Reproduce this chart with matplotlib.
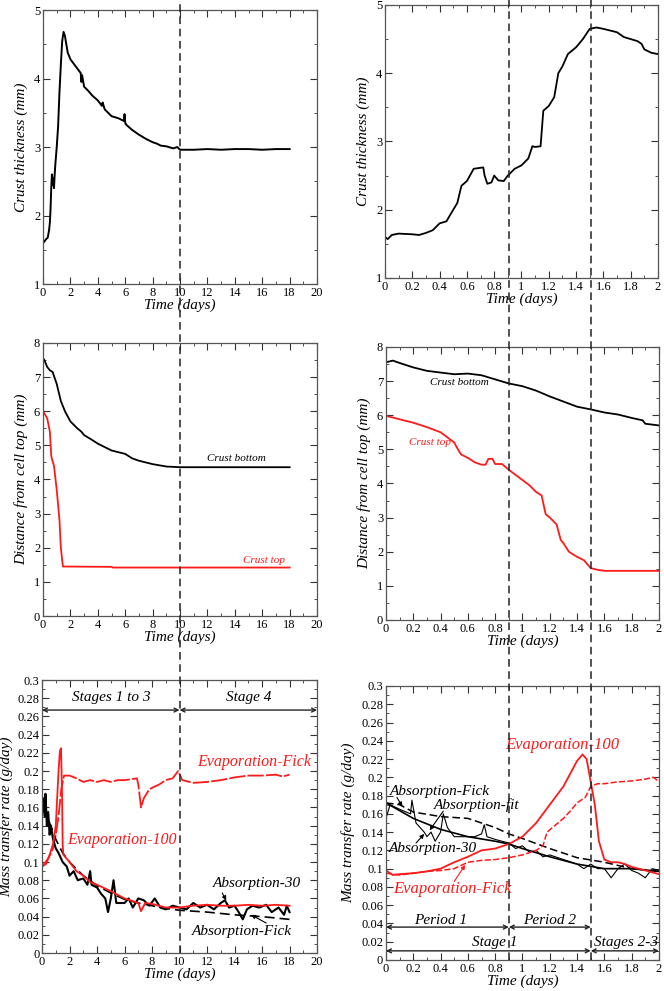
import matplotlib
matplotlib.use("Agg")
import matplotlib.pyplot as plt
from matplotlib.lines import Line2D
from matplotlib.ticker import MultipleLocator, FormatStrFormatter
from matplotlib.transforms import blended_transform_factory

# ---- crust thickness, long run (days, mm)
thick_long_t = [0, 0.1, 0.2, 0.35, 0.45, 0.5, 0.55, 0.6, 0.65, 0.7, 0.75, 0.8, 0.85, 0.9, 1.0, 1.1, 1.2, 1.3,
                1.4, 1.5, 1.6, 1.7, 1.8, 2.0, 2.3, 2.6, 2.75, 2.8, 2.85, 3.0, 3.3, 3.6, 4.0, 4.3, 4.35, 4.5,
                5.0, 5.5, 5.9, 5.95, 6.0, 6.1, 6.5, 7.0, 7.5, 8.0, 8.3, 8.6, 9.0, 9.5, 9.8, 10.0, 10.5, 11,
                12, 13, 14, 15, 16, 17, 18]
thick_long = [1.6, 1.62, 1.65, 1.68, 1.8, 1.9, 2.1, 2.4, 2.6, 2.45, 2.55, 2.4, 2.6, 2.75, 3.0, 3.3, 3.8, 4.2,
              4.55, 4.68, 4.62, 4.5, 4.38, 4.28, 4.2, 4.12, 4.08, 3.95, 4.05, 3.88, 3.82, 3.75, 3.68, 3.6,
              3.65, 3.55, 3.45, 3.42, 3.38, 3.48, 3.35, 3.32, 3.25, 3.18, 3.12, 3.07, 3.05, 3.02, 3.01,
              2.98, 3.0, 2.96, 2.96, 2.96, 2.97, 2.96, 2.97, 2.97, 2.96, 2.97, 2.97]

# ---- crust thickness, first two days
thick_short_t = [0, 0.02, 0.05, 0.1, 0.2, 0.25, 0.3, 0.35, 0.4, 0.45, 0.5, 0.53, 0.56, 0.6, 0.65, 0.72, 0.73,
                 0.75, 0.78, 0.8, 0.83, 0.87, 0.9, 0.95, 1.0, 1.05, 1.08, 1.1, 1.14, 1.16, 1.2, 1.24, 1.27,
                 1.3, 1.34, 1.4, 1.45, 1.5, 1.55, 1.6, 1.7, 1.75, 1.85, 1.88, 1.9, 1.95, 2.0]
thick_short = [1.6, 1.57, 1.63, 1.65, 1.64, 1.63, 1.66, 1.7, 1.8, 1.83, 2.0, 2.1, 2.35, 2.42, 2.6, 2.62, 2.5,
               2.38, 2.4, 2.5, 2.43, 2.42, 2.5, 2.6, 2.65, 2.75, 2.93, 2.92, 2.93, 3.45, 3.52, 3.65, 4.0,
               4.1, 4.28, 4.38, 4.5, 4.65, 4.67, 4.65, 4.6, 4.53, 4.47, 4.43, 4.35, 4.3, 4.28]

# ---- crust position, long run
bottom_long_t = [0, 0.1, 0.3, 0.5, 0.7, 1.0, 1.3, 1.6, 2.0, 2.5, 2.8, 3.0, 3.5, 4.0, 4.5, 5.0, 5.5, 6.0, 6.5,
                 7.0, 7.5, 8.0, 9.0, 10, 12, 14, 16, 18]
bottom_long = [7.55, 7.5, 7.3, 7.2, 7.15, 6.8, 6.3, 6.0, 5.7, 5.5, 5.4, 5.3, 5.18, 5.05, 4.95, 4.85, 4.8,
               4.75, 4.62, 4.55, 4.5, 4.45, 4.38, 4.36, 4.36, 4.36, 4.36, 4.36]
top_long_t = [0, 0.3, 0.5, 0.6, 0.65, 0.8, 1.0, 1.2, 1.3, 1.45, 5.0, 5.1, 18]
top_long = [6.0, 5.8, 5.4, 4.7, 4.6, 4.4, 3.7, 2.8, 2.0, 1.45, 1.44, 1.42, 1.42]

# ---- crust position, first two days
bottom_short_t = [0, 0.05, 0.1, 0.2, 0.3, 0.4, 0.5, 0.6, 0.7, 0.8, 0.9, 1.0, 1.1, 1.2, 1.3, 1.4, 1.5, 1.6,
                  1.7, 1.8, 1.88, 1.9, 2.0]
bottom_short = [7.55, 7.6, 7.53, 7.4, 7.3, 7.25, 7.2, 7.22, 7.17, 7.05, 6.93, 6.85, 6.72, 6.55, 6.4, 6.25,
                6.17, 6.08, 6.02, 5.92, 5.85, 5.75, 5.7]
top_short_t = [0, 0.1, 0.2, 0.3, 0.4, 0.5, 0.52, 0.55, 0.6, 0.65, 0.7, 0.73, 0.75, 0.78, 0.8, 0.85, 0.9, 0.95,
               1.0, 1.05, 1.1, 1.14, 1.17, 1.2, 1.25, 1.28, 1.3, 1.34, 1.4, 1.45, 1.5, 1.55, 1.6, 2.0]
top_short = [5.98, 5.88, 5.78, 5.65, 5.5, 5.2, 5.05, 4.85, 4.75, 4.62, 4.55, 4.55, 4.72, 4.72, 4.57, 4.57,
             4.4, 4.25, 4.1, 3.95, 3.75, 3.65, 3.1, 3.0, 2.8, 2.35, 2.25, 2.0, 1.85, 1.75, 1.52, 1.47, 1.44,
             1.44]

# ---- mass transfer rate, long run (g/day)
evap100_long_t = [0, 0.3, 0.6, 0.8, 1.0, 1.1, 1.2, 1.3, 1.38, 1.45, 1.5, 1.55, 2, 2.5, 3, 3.5, 4, 5, 6, 7,
                  7.2, 7.5, 8, 9, 10, 11, 12, 13, 14, 15, 16, 17, 18]
evap100_long = [0.095, 0.098, 0.11, 0.12, 0.14, 0.17, 0.2, 0.222, 0.225, 0.18, 0.12, 0.108, 0.1, 0.09,
                0.085, 0.078, 0.075, 0.068, 0.06, 0.055, 0.046, 0.055, 0.054, 0.05, 0.05, 0.052, 0.053,
                0.052, 0.052, 0.053, 0.052, 0.053, 0.052]
evapfick_long_t = [0, 0.5, 0.8, 1.0, 1.2, 1.4, 1.6, 2, 2.5, 3, 3.5, 4, 4.5, 5, 5.5, 6, 6.5, 6.9, 7.0, 7.2,
                   7.4, 7.8, 8.2, 8.5, 9, 9.5, 9.9, 10.2, 11, 12, 13, 14, 15, 16, 17, 17.5, 18]
evapfick_long = [0.095, 0.105, 0.115, 0.13, 0.15, 0.18, 0.195, 0.195, 0.192, 0.188, 0.19, 0.188, 0.19,
                 0.188, 0.19, 0.19, 0.191, 0.192, 0.185, 0.16, 0.17, 0.18, 0.183, 0.185, 0.19, 0.192, 0.2,
                 0.19, 0.187, 0.188, 0.19, 0.193, 0.195, 0.195, 0.196, 0.194, 0.196]
abs30_long_t = [0, 0.1, 0.2, 0.25, 0.35, 0.45, 0.55, 0.65, 0.8, 1.0, 1.2, 1.5, 1.8, 2.0, 2.3, 2.6, 3.0, 3.3,
                3.5, 3.6, 4.0, 4.3, 4.6, 4.8, 5.0, 5.2, 5.4, 6.0, 6.3, 6.6, 7.0, 7.4, 7.8, 8.2, 8.6, 9.0,
                9.5, 10, 10.5, 11, 11.5, 12, 12.5, 13, 13.3, 13.6, 14, 14.3, 14.6, 14.9, 15.3, 15.8, 16.3,
                16.7, 17.2, 17.6, 17.8, 18]
abs30_long = [0.16, 0.17, 0.15, 0.175, 0.14, 0.155, 0.13, 0.14, 0.125, 0.115, 0.11, 0.1, 0.095, 0.085,
              0.09, 0.08, 0.082, 0.075, 0.09, 0.075, 0.072, 0.065, 0.06, 0.045, 0.06, 0.08, 0.055, 0.055,
              0.06, 0.05, 0.06, 0.058, 0.052, 0.06, 0.05, 0.048, 0.052, 0.05, 0.048, 0.055, 0.05, 0.053,
              0.048, 0.055, 0.058, 0.05, 0.052, 0.045, 0.037, 0.048, 0.052, 0.05, 0.053, 0.045, 0.05,
              0.042, 0.052, 0.045]
absfick_long_t = [0, 0.5, 1.0, 1.5, 2, 3, 4, 5, 6, 7, 8, 9, 10, 12, 14, 16, 18]
absfick_long = [0.16, 0.145, 0.125, 0.11, 0.1, 0.085, 0.074, 0.066, 0.059, 0.055, 0.052, 0.049, 0.047,
                0.045, 0.042, 0.04, 0.037]

# ---- mass transfer rate, first two days
evap100_short_t = [0, 0.05, 0.1, 0.2, 0.3, 0.4, 0.5, 0.6, 0.7, 0.8, 0.9, 1.0, 1.1, 1.2, 1.3, 1.4, 1.44,
                   1.47, 1.5, 1.53, 1.56, 1.6, 1.65, 1.7, 1.75, 1.8, 1.9, 2.0]
evap100_short = [0.098, 0.093, 0.094, 0.095, 0.097, 0.1, 0.107, 0.113, 0.12, 0.122, 0.127, 0.135, 0.15,
                 0.17, 0.19, 0.218, 0.225, 0.22, 0.195, 0.17, 0.13, 0.11, 0.107, 0.107, 0.105, 0.102,
                 0.098, 0.094]
evapfick_short_t = [0, 0.1, 0.2, 0.3, 0.4, 0.5, 0.6, 0.7, 0.8, 0.9, 1.0, 1.1, 1.15, 1.18, 1.22, 1.3, 1.35,
                    1.4, 1.46, 1.5, 1.55, 1.6, 1.7, 1.8, 1.9, 1.96, 2.0]
evapfick_short = [0.095, 0.093, 0.095, 0.097, 0.098, 0.1, 0.107, 0.109, 0.11, 0.112, 0.115, 0.12, 0.125,
                  0.14, 0.145, 0.155, 0.163, 0.172, 0.178, 0.19, 0.193, 0.193, 0.195, 0.196, 0.198, 0.2,
                  0.195]
absfit_short_t = [0, 0.2, 0.4, 0.6, 0.8, 0.9, 1.0, 1.2, 1.4, 1.6, 1.8, 2.0]
absfit_short = [0.172, 0.155, 0.143, 0.135, 0.13, 0.127, 0.122, 0.113, 0.105, 0.1, 0.1, 0.097]
absfick_short_t = [0, 0.1, 0.2, 0.4, 0.6, 0.7, 0.8, 0.9, 1.0, 1.2, 1.4, 1.6, 1.8, 2.0]
absfick_short = [0.172, 0.17, 0.162, 0.157, 0.155, 0.15, 0.145, 0.138, 0.133, 0.122, 0.112, 0.107, 0.1,
                 0.097]
abs30_short_t = [0, 0.03, 0.1, 0.18, 0.19, 0.22, 0.25, 0.28, 0.3, 0.33, 0.36, 0.4, 0.42, 0.45, 0.5, 0.6,
                 0.65, 0.7, 0.72, 0.74, 0.8, 0.85, 0.9, 0.95, 1.0, 1.05, 1.1, 1.15, 1.2, 1.3, 1.4, 1.45,
                 1.5, 1.55, 1.6, 1.65, 1.7, 1.75, 1.8, 1.85, 1.9, 1.95, 2.0]
abs30_short = [0.155, 0.17, 0.165, 0.16, 0.175, 0.15, 0.145, 0.14, 0.135, 0.14, 0.13, 0.14, 0.16, 0.145,
               0.135, 0.135, 0.135, 0.138, 0.148, 0.135, 0.132, 0.13, 0.128, 0.122, 0.125, 0.118, 0.12,
               0.113, 0.115, 0.11, 0.105, 0.1, 0.105, 0.1, 0.1, 0.09, 0.1, 0.105, 0.098, 0.095, 0.09,
               0.1, 0.098]

SERIF = "Liberation Serif"
RED = "#ff1a1a"


def style_axes(ax, xmax, xmaj, ymin, ymax, ymaj):
    ax.set_xlim(0, xmax)
    ax.set_ylim(ymin, ymax)
    ax.xaxis.set_major_locator(MultipleLocator(xmaj))
    ax.xaxis.set_minor_locator(MultipleLocator(xmaj / 2))
    ax.yaxis.set_major_locator(MultipleLocator(ymaj))
    ax.yaxis.set_minor_locator(MultipleLocator(ymaj / 2))
    fmt = FormatStrFormatter("%g")
    ax.xaxis.set_major_formatter(fmt)
    ax.yaxis.set_major_formatter(fmt)
    ax.tick_params(which="both", direction="in", top=True, right=True, labelsize=9,
                   color="#333333", pad=2)
    ax.tick_params(which="major", length=5)
    ax.tick_params(which="minor", length=2.5)
    for lbl in ax.get_xticklabels() + ax.get_yticklabels():
        lbl.set_fontfamily(SERIF)
    for sp in ax.spines.values():
        sp.set_color("#555555")
        sp.set_linewidth(0.9)
    ax.set_xlabel("Time (days)", fontfamily=SERIF, fontstyle="italic", fontsize=11, labelpad=0)


def dbl_arrow(ax, x0, x1, y):
    ax.annotate("", xy=(x0, y), xytext=(x1, y),
                arrowprops=dict(arrowstyle="<->", lw=1.0, color="#222222", mutation_scale=7,
                                shrinkA=0, shrinkB=0))


def pointer(ax, xy, xytext, color="black"):
    ax.annotate("", xy=xy, xytext=xytext,
                arrowprops=dict(arrowstyle="-|>", lw=0.8, color=color, mutation_scale=6,
                                shrinkA=0, shrinkB=0))


def label(ax, x, y, s, color="black", size=11, ha="left"):
    ax.text(x, y, s, color=color, fontsize=size, fontfamily=SERIF, fontstyle="italic", ha=ha,
            va="center")


def main():
    fig = plt.figure(figsize=(6.64, 9.91), dpi=100)
    ax_tl = fig.add_axes([0.0648, 0.7134, 0.4127, 0.2765])
    ax_tr = fig.add_axes([0.5798, 0.7195, 0.4111, 0.2755])
    ax_ml = fig.add_axes([0.0648, 0.3784, 0.4127, 0.2755])
    ax_mr = fig.add_axes([0.5813, 0.3744, 0.4111, 0.2755])
    ax_bl = fig.add_axes([0.0633, 0.0383, 0.4142, 0.2755])
    ax_br = fig.add_axes([0.5813, 0.0313, 0.4111, 0.2765])

    # crust thickness
    ax_tl.plot(thick_long_t, thick_long, color="black", lw=1.4)
    style_axes(ax_tl, 20, 2, 1, 5, 1)
    ax_tl.set_ylabel("Crust thickness (mm)", fontfamily=SERIF, fontstyle="italic", fontsize=11)

    ax_tr.plot(thick_short_t, thick_short, color="black", lw=1.3)
    style_axes(ax_tr, 2, 0.2, 1, 5, 1)
    ax_tr.set_ylabel("Crust thickness (mm)", fontfamily=SERIF, fontstyle="italic", fontsize=11)

    # crust position
    ax_ml.plot(bottom_long_t, bottom_long, color="black", lw=1.3)
    ax_ml.plot(top_long_t, top_long, color=RED, lw=1.3)
    style_axes(ax_ml, 20, 2, 0, 8, 1)
    ax_ml.set_ylabel("Distance from cell top (mm)", fontfamily=SERIF, fontstyle="italic", fontsize=11)
    label(ax_ml, 12.0, 4.62, "Crust bottom", size=8)
    label(ax_ml, 14.6, 1.63, "Crust top", color=RED, size=8)

    ax_mr.plot(bottom_short_t, bottom_short, color="black", lw=1.3)
    ax_mr.plot(top_short_t, top_short, color=RED, lw=1.3)
    style_axes(ax_mr, 2, 0.2, 0, 8, 1)
    ax_mr.set_ylabel("Distance from cell top (mm)", fontfamily=SERIF, fontstyle="italic", fontsize=11)
    label(ax_mr, 0.32, 6.97, "Crust bottom", size=8)
    label(ax_mr, 0.17, 5.2, "Crust top", color=RED, size=8)

    # mass transfer rate, long run
    ax_bl.plot(evapfick_long_t, evapfick_long, color=RED, lw=1.3, dashes=(9, 1.2))
    ax_bl.plot(abs30_long_t, abs30_long, color="black", lw=1.5)
    ax_bl.plot(absfick_long_t, absfick_long, color="black", lw=1.2, dashes=(6, 3))
    ax_bl.plot(evap100_long_t, evap100_long, color=RED, lw=1.3)
    style_axes(ax_bl, 20, 2, 0, 0.3, 0.02)
    ax_bl.set_ylim(0, 0.3)
    ax_bl.set_ylabel("Mass transfer rate (g/day)", fontfamily=SERIF, fontstyle="italic", fontsize=11)
    ax_bl.yaxis.set_label_coords(-0.105, 0.5)
    dbl_arrow(ax_bl, 0, 10, 0.267)
    dbl_arrow(ax_bl, 10, 20, 0.267)
    label(ax_bl, 5.0, 0.281, "Stages 1 to 3", ha="center")
    label(ax_bl, 15.0, 0.281, "Stage 4", ha="center")
    label(ax_bl, 11.3, 0.21, "Evaporation-Fick", color=RED, size=11.5)
    label(ax_bl, 1.8, 0.124, "Evaporation-100", color=RED, size=11.5)
    label(ax_bl, 12.4, 0.076, "Absorption-30", size=11)
    label(ax_bl, 10.9, 0.024, "Absorption-Fick", size=11)
    pointer(ax_bl, (13.4, 0.058), (13.1, 0.066))
    pointer(ax_bl, (15.2, 0.042), (16.3, 0.033))

    # mass transfer rate, first two days
    ax_br.plot(abs30_short_t, abs30_short, color="black", lw=0.8)
    ax_br.plot(absfit_short_t, absfit_short, color="black", lw=1.2)
    ax_br.plot(absfick_short_t, absfick_short, color="black", lw=1.1, dashes=(5, 2.5))
    ax_br.plot(evapfick_short_t, evapfick_short, color=RED, lw=1.1, dashes=(4, 1.5))
    ax_br.plot(evap100_short_t, evap100_short, color=RED, lw=1.3)
    style_axes(ax_br, 2, 0.2, 0, 0.3, 0.02)
    ax_br.set_ylim(0, 0.3)
    ax_br.set_ylabel("Mass transfer rate (g/day)", fontfamily=SERIF, fontstyle="italic", fontsize=11)
    label(ax_br, 0.87, 0.235, "Evaporation-100", color=RED, size=12)
    label(ax_br, 0.03, 0.185, "Absorption-Fick", size=11)
    label(ax_br, 0.35, 0.170, "Absorption-fit", size=11)
    label(ax_br, 0.02, 0.122, "Absorption-30", size=11)
    label(ax_br, 0.05, 0.078, "Evaporation-Fick", color=RED, size=12)
    pointer(ax_br, (0.12, 0.168), (0.08, 0.178))
    pointer(ax_br, (0.32, 0.142), (0.42, 0.163))
    pointer(ax_br, (0.28, 0.138), (0.22, 0.128), color="black")
    pointer(ax_br, (0.58, 0.104), (0.5, 0.086), color=RED)
    dbl_arrow(ax_br, 0, 0.9, 0.036)
    dbl_arrow(ax_br, 0.9, 1.5, 0.036)
    dbl_arrow(ax_br, 0, 1.5, 0.01)
    dbl_arrow(ax_br, 1.5, 2.0, 0.01)
    label(ax_br, 0.4, 0.043, "Period 1", ha="center")
    label(ax_br, 1.2, 0.043, "Period 2", ha="center")
    label(ax_br, 0.8, 0.019, "Stage 1", ha="center")
    label(ax_br, 1.76, 0.019, "Stages 2-3", ha="center")

    # stage boundaries drawn across the stacked panels
    for ax, xs, y0 in [(ax_bl, [10], 0.0383), (ax_br, [0.9, 1.5], 0.0313)]:
        tr = blended_transform_factory(ax.transData, fig.transFigure)
        for x in xs:
            fig.add_artist(Line2D([x, x], [y0, 1.0], transform=tr, color="#222222", lw=1.1,
                                  dashes=(5, 3)))

    fig.savefig("out.png", dpi=100)
    plt.close(fig)


if __name__ == "__main__":
    main()
